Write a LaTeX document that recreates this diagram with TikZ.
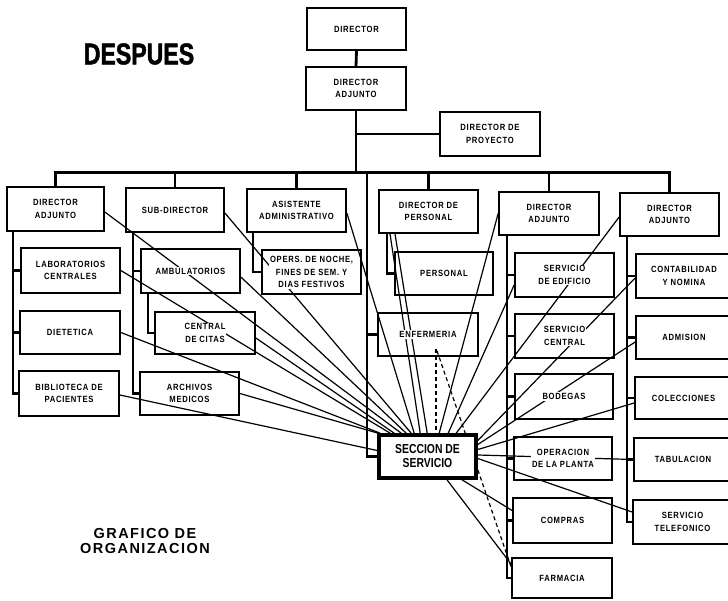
\documentclass[tikz,border=0pt]{standalone}
\usepackage{fontspec}
\setmainfont{Liberation Sans}
\newfontfamily\boxfont{Liberation Sans}[FakeStretch=0.85,LetterSpace=8]
\newfontfamily\secfont{Liberation Sans}[FakeStretch=0.8]
\newfontfamily\titlefont{Liberation Sans}[FakeStretch=0.77,FakeBold=1.5]
\newfontfamily\subfont{Liberation Sans}[LetterSpace=10]
\usetikzlibrary{fit,backgrounds}
\tikzset{
  box/.style={draw, line width=1.7pt, inner sep=0pt},
  secbox/.style={draw, line width=3.6pt, inner sep=0pt, fill=white},
  txt/.style={font=\boxfont\bfseries\fontsize{9}{12.5}\selectfont, align=center, fill=white, inner sep=1pt},
  sectxt/.style={font=\secfont\bfseries\fontsize{13}{14}\selectfont, align=center, inner sep=0pt},
  titletxt/.style={font=\titlefont\bfseries\fontsize{30}{32}\selectfont, inner sep=0pt},
  subtxt/.style={font=\subfont\bfseries\fontsize{14.5}{15.5}\selectfont, align=center, inner sep=0pt},
  trunk/.style={line width=2.8pt},
  link/.style={line width=1.2pt},
  dlink/.style={line width=1.2pt, dash pattern=on 4pt off 3pt},
}
\begin{document}
\begin{tikzpicture}[x=1pt,y=-1pt]
\useasboundingbox (0,0) rectangle (728,601);

% boxes
\node[box, fit={(307,8) (406,50)}] (dir) {};
\node[box, fit={(306,67) (406,110)}] (adj0) {};
\node[box, fit={(440,112) (540,156)}] (proy) {};
\node[box, fit={(7,187) (104,231)}] (c1) {};
\node[box, fit={(126,188) (224,232)}] (c2) {};
\node[box, fit={(247,189) (346,232)}] (c3) {};
\node[box, fit={(379,190) (478,233)}] (c4) {};
\node[box, fit={(499,192) (599,235)}] (c5) {};
\node[box, fit={(620,193) (719,236)}] (c6) {};
\node[box, fit={(21,248) (120,293)}] (lab) {};
\node[box, fit={(20,311) (120,354)}] (diet) {};
\node[box, fit={(19,371) (119,416)}] (bib) {};
\node[box, fit={(141,249) (240,293)}] (amb) {};
\node[box, fit={(155,312) (255,354)}] (cit) {};
\node[box, fit={(140,372) (239,415)}] (arc) {};
\node[box, fit={(262,250) (361,294)}] (ops) {};
\node[box, fit={(395,252) (493,295)}] (per) {};
\node[box, fit={(378,313) (478,356)}] (enf) {};
\node[box, fit={(515,253) (614,297)}] (edi) {};
\node[box, fit={(515,314) (614,358)}] (sce) {};
\node[box, fit={(515,374) (613,419)}] (bod) {};
\node[box, fit={(514,437) (612,480)}] (opl) {};
\node[box, fit={(513,498) (612,543)}] (com) {};
\node[box, fit={(512,558) (612,598)}] (far) {};
\node[box, fit={(636,254) (732,298)}] (cont) {};
\node[box, fit={(636,316) (732,359)}] (adm) {};
\node[box, fit={(635,377) (732,419)}] (col) {};
\node[box, fit={(634,438) (732,481)}] (tab) {};
\node[box, fit={(633,500) (732,544)}] (tel) {};
\node[secbox, fit={(379,435) (476,478)}] (sec) {};

\coordinate (cen) at (367,173);
\coordinate (v1) at (13,231);
\coordinate (v2) at (133,232);
\coordinate (v2b) at (148,293);
\coordinate (v3) at (253,232);
\coordinate (v4) at (387,233);
\coordinate (v5) at (507,235);
\coordinate (v6) at (627,236);

\begin{scope}[on background layer]
  % organisation trunk
  \draw[trunk] (dir.south) -- (adj0.north);
  \draw[trunk] (adj0.south) -- ++(0,63);
  \draw[trunk] (adj0.south |- proy.west) -- (proy.west);
  \draw[trunk] (c1.north) -- ++(0,-14) -| (c6.north);
  \draw[trunk] (c2.north) -- ++(0,-15);
  \draw[trunk] (c3.north) -- ++(0,-16);
  \draw[trunk] (c4.north) -- ++(0,-17);
  \draw[trunk] (c5.north) -- ++(0,-19);
  \draw[trunk] (cen) |- (sec.west);
  \draw[trunk] (cen |- enf.west) -- (enf.west);
  \draw[trunk] (v1) |- (bib.west);
  \draw[trunk] (v1 |- lab.west) -- (lab.west);
  \draw[trunk] (v1 |- diet.west) -- (diet.west);
  \draw[trunk] (v2) |- (arc.west);
  \draw[trunk] (v2 |- amb.west) -- (amb.west);
  \draw[trunk] (v2b) |- (cit.west);
  \draw[trunk] (v3) |- (ops.west);
  \draw[trunk] (v4) |- (per.west);
  \draw[trunk] (v5) |- (far.west);
  \draw[trunk] (v5 |- edi.west) -- (edi.west);
  \draw[trunk] (v5 |- sce.west) -- (sce.west);
  \draw[trunk] (v5 |- bod.west) -- (bod.west);
  \draw[trunk] (v5 |- opl.west) -- (opl.west);
  \draw[trunk] (v5 |- com.west) -- (com.west);
  \draw[trunk] (v6) |- (tel.west);
  \draw[trunk] (v6 |- cont.west) -- (cont.west);
  \draw[trunk] (v6 |- adm.west) -- (adm.west);
  \draw[trunk] (v6 |- col.west) -- (col.west);
  \draw[trunk] (v6 |- tab.west) -- (tab.west);

  % fan of links to SECCION DE SERVICIO (left)
  \draw[link] ([yshift=-1.5pt]bib.east) -- ([yshift=6pt]sec.west);
  \draw[link] (arc.east) -- ([xshift=1pt]sec.north west);
  \draw[link] (diet.east) -- ([xshift=3pt]sec.north west);
  \draw[link] (lab.east) -- ([xshift=13pt]sec.north west);
  \draw[link] ([yshift=-5pt]cit.east) -- ([xshift=17pt]sec.north west);
  \draw[link] ([yshift=-3pt]c1.east) -- ([xshift=24pt]sec.north west);
  \draw[link] ([yshift=-6pt]amb.east) -- ([xshift=29pt]sec.north west);
  \draw[link] ([yshift=-3pt]c2.east) -- ([xshift=34pt]sec.north west);
  \draw[link] ([yshift=-2.5pt]c3.east) -- ([xshift=37pt]sec.north west);
  % middle
  \draw[link] ([xshift=-38.5pt]c4.south) -- ([xshift=43pt]sec.north west);
  \draw[link] ([xshift=-33.5pt]c4.south) -- ([xshift=50pt]sec.north west);
  \draw[dlink] ([xshift=8pt,yshift=8pt]enf.south) -- ([xshift=8.5pt]sec.north);
  \draw[dlink] ([xshift=9pt,yshift=6pt]enf.south) -- ([yshift=11pt]far.west);
  % right
  \draw[link] (c5.west) -- ([xshift=62pt]sec.north west);
  \draw[link] ([yshift=-10pt]edi.west) -- ([xshift=71pt]sec.north west);
  \draw[link] ([yshift=-2.5pt]c6.west) -- ([xshift=79pt]sec.north west);
  \draw[link] ([yshift=-2pt]cont.west) -- ([yshift=16pt]sec.east);
  \draw[link] ([yshift=-4.5pt]adm.west) -- ([yshift=12pt]sec.east);
  \draw[link] ([yshift=-5pt]col.west) -- ([yshift=7pt]sec.east);
  \draw[link] ([yshift=1.5pt]sec.east) -- (tab.west);
  \draw[link] ([yshift=-2pt]sec.east) -- ([yshift=10pt]tel.west);
  % below
  \draw[link] ([xshift=34.5pt]sec.south) -- ([yshift=10pt]com.west);
  \draw[link] ([xshift=19.5pt]sec.south) -- ([yshift=-7pt]far.north west);
\end{scope}

% texts
\node[txt] (dirt) at (dir) {DIRECTOR};
\node[txt] (adj0t) at (adj0) {DIRECTOR\\ADJUNTO};
\node[txt] (proyt) at (proy) {DIRECTOR DE\\PROYECTO};
\node[txt] (c1t) at (c1) {DIRECTOR\\ADJUNTO};
\node[txt] (c2t) at (c2) {SUB-DIRECTOR};
\node[txt] (c3t) at (c3) {ASISTENTE\\ADMINISTRATIVO};
\node[txt] (c4t) at (c4) {DIRECTOR DE\\PERSONAL};
\node[txt] (c5t) at (c5) {DIRECTOR\\ADJUNTO};
\node[txt] (c6t) at (c6) {DIRECTOR\\ADJUNTO};
\node[txt] (labt) at (lab) {LABORATORIOS\\CENTRALES};
\node[txt] (dielt) at (diet) {DIETETICA};
\node[txt] (bibt) at (bib) {BIBLIOTECA DE\\PACIENTES};
\node[txt] (ambt) at (amb) {AMBULATORIOS};
\node[txt] (citt) at (cit) {CENTRAL\\DE CITAS};
\node[txt] (arct) at (arc) {ARCHIVOS\\MEDICOS};
\node[txt] (opst) at (ops) {OPERS. DE NOCHE,\\FINES DE SEM. Y\\DIAS FESTIVOS};
\node[txt] (pert) at (per) {PERSONAL};
\node[txt] (enft) at (enf) {ENFERMERIA};
\node[txt] (edit) at (edi) {SERVICIO\\DE EDIFICIO};
\node[txt] (scet) at (sce) {SERVICIO\\CENTRAL};
\node[txt] (bodt) at (bod) {BODEGAS};
\node[txt] (oplt) at (opl) {OPERACION\\DE LA PLANTA};
\node[txt] (comt) at (com) {COMPRAS};
\node[txt] (fart) at (far) {FARMACIA};
\node[txt] (contt) at (cont) {CONTABILIDAD\\Y NOMINA};
\node[txt] (admt) at (adm) {ADMISION};
\node[txt] (colt) at (col) {COLECCIONES};
\node[txt] (tabt) at (tab) {TABULACION};
\node[txt] (telt) at (tel) {SERVICIO\\TELEFONICO};
\node[sectxt] (sect) at (sec) {SECCION DE\\SERVICIO};

\node[titletxt] (title) at (139,54) {DESPUES};
\node[subtxt] (subtitle) at (145,541) {GRAFICO DE\\ORGANIZACION};
\end{tikzpicture}
\end{document}
